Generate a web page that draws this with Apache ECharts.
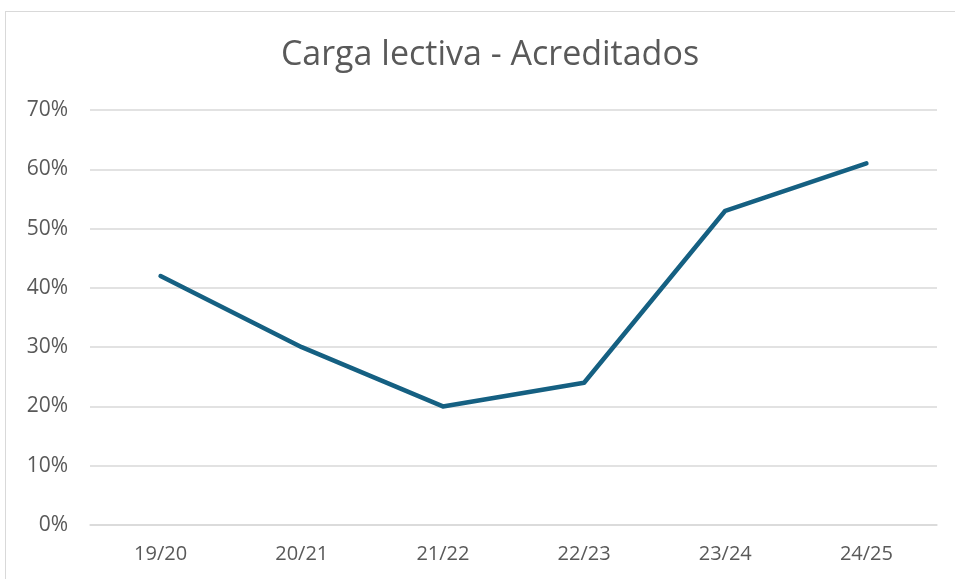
<!DOCTYPE html>
<html>
<head>
<meta charset="utf-8">
<script src="https://cdn.jsdelivr.net/npm/echarts@6/dist/echarts.min.js"></script>
<style>
  html, body { margin: 0; padding: 0; background: #fff; }
  #frame {
    position: absolute; left: 5px; top: 11px; width: 960px; height: 580px;
    border: 1px solid #d9d9d9; box-sizing: border-box;
  }
  #chart { position: absolute; left: 0; top: 0; width: 955px; height: 579px; }
</style>
</head>
<body>
<div id="frame"></div>
<div id="chart"></div>
<script>
// datos del gráfico
const categories = ['19/20', '20/21', '21/22', '22/23', '23/24', '24/25']
const acreditados = [42, 30, 20, 24, 53, 61]
const titleText = 'Carga lectiva - Acreditados'

const myChart = echarts.init(document.getElementById('chart'))
myChart.setOption({
  animation: false,
  title: {
    text: titleText,
    left: 485,
    textAlign: 'center',
    top: 33,
    textStyle: {
      fontFamily: 'Open Sans',
      fontWeight: 'normal',
      fontSize: 34,
      color: '#595959',
    },
  },
  grid: { left: 90, right: 18, top: 110, bottom: 54 },
  xAxis: {
    type: 'category',
    data: categories,
    boundaryGap: true,
    axisLine: { lineStyle: { color: '#d9d9d9', width: 1.5 } },
    axisTick: { show: false },
    axisLabel: {
      margin: 19,
      fontFamily: 'Open Sans',
      fontSize: 20,
      color: '#595959',
    },
  },
  yAxis: {
    type: 'value',
    min: 0,
    max: 70,
    interval: 10,
    axisLine: { show: false },
    axisTick: { show: false },
    splitLine: { lineStyle: { color: '#d9d9d9', width: 1.5 } },
    axisLabel: {
      margin: 22,
      fontFamily: 'Open Sans',
      fontSize: 21,
      color: '#595959',
      formatter: '{value}%',
    },
  },
  series: [
    {
      name: 'Acreditados',
      type: 'line',
      data: acreditados,
      symbol: 'none',
      lineStyle: { color: '#156082', width: 4.5, cap: 'round', join: 'round' },
    },
  ],
})
</script>
</body>
</html>
